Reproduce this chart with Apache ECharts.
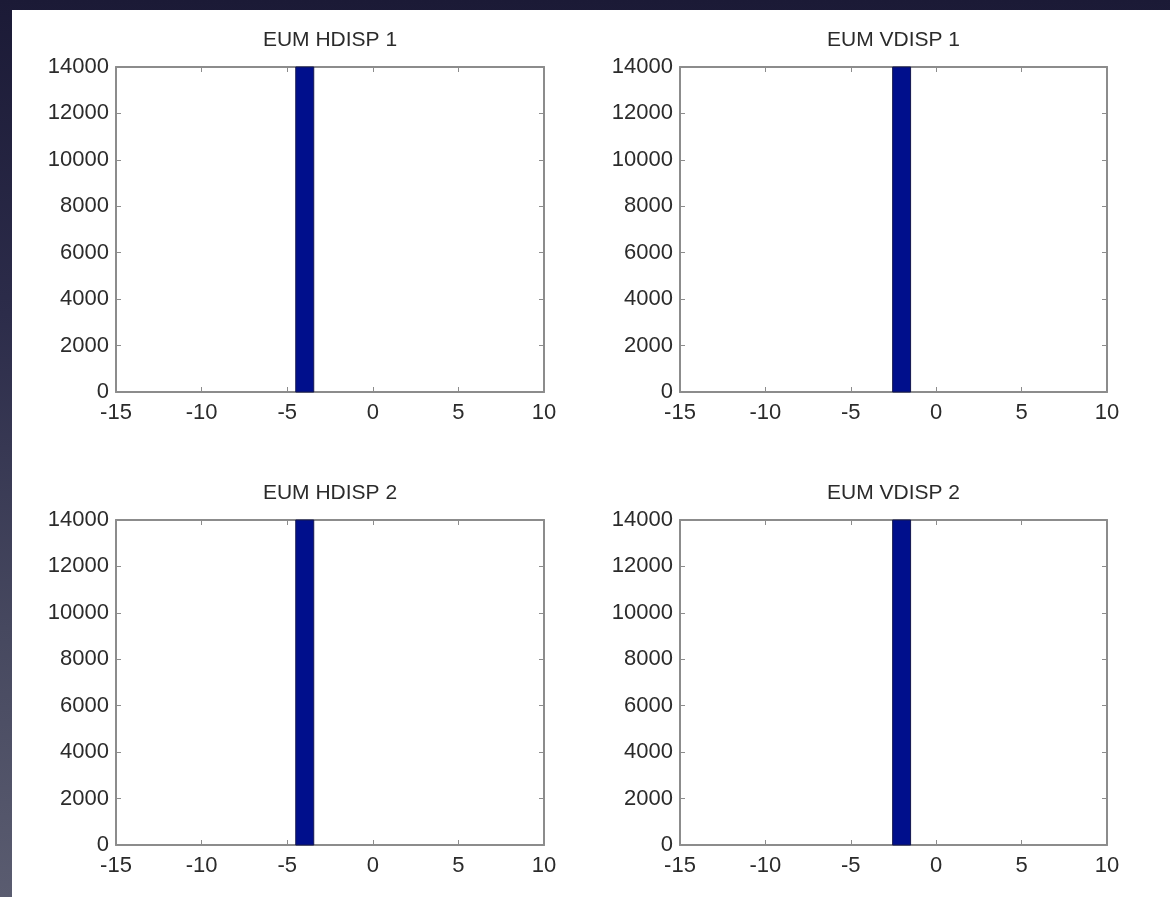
<!DOCTYPE html>
<html>
<head>
<meta charset="utf-8">
<script src="https://cdn.jsdelivr.net/npm/echarts@6/dist/echarts.min.js"></script>
<style>
  html, body { margin: 0; padding: 0; width: 1170px; height: 897px; overflow: hidden;
    background: linear-gradient(to bottom, #1b1a36 0%, #2c2c4a 35%, #46485f 70%, #5a5c70 100%); }
  #panel { position: absolute; left: 12px; top: 10px; width: 1158px; height: 887px; background: #ffffff; }
  #chart { position: absolute; left: 0; top: 0; width: 1170px; height: 897px; }
</style>
</head>
<body>
<div id="panel"></div>
<div id="chart"></div>
<script>
// ---- data ----
const panelTitles = ['EUM HDISP 1', 'EUM VDISP 1', 'EUM HDISP 2', 'EUM VDISP 2'];
// histogram bins: [bin start, bin end, count]
const hdisp1Bins = [[-4.5, -3.45, 14000]];
const vdisp1Bins = [[-2.55, -1.5, 14000]];
const hdisp2Bins = [[-4.5, -3.45, 14000]];
const vdisp2Bins = [[-2.55, -1.5, 14000]];
const xTicks = { min: -15, max: 10, interval: 5 };
const yTicks = { min: 0, max: 14000, interval: 2000 };

const allBins = [hdisp1Bins, vdisp1Bins, hdisp2Bins, vdisp2Bins];

// ---- layout ----
const grids = [
  { left: 116, top: 67, width: 428, height: 325 },
  { left: 680, top: 67, width: 427, height: 325 },
  { left: 116, top: 520, width: 428, height: 325 },
  { left: 680, top: 520, width: 427, height: 325 }
];

const axisColor = '#8c8c8c';
const textColor = '#2b2b2b';
const fontFamily = '"Liberation Sans", Arial, Helvetica, sans-serif';

const xAxes = [], yAxes = [], series = [], graphics = [];
grids.forEach((g, i) => {
  const base = {
    gridIndex: i,
    type: 'value',
    axisLine: { show: true, onZero: false, lineStyle: { color: axisColor, width: 2 } },
    axisTick: { show: true, inside: true, length: 5, lineStyle: { color: axisColor, width: 1 } },
    splitLine: { show: false }
  };
  xAxes.push(Object.assign({}, base, {
    position: 'bottom', min: xTicks.min, max: xTicks.max, interval: xTicks.interval,
    axisLabel: { color: textColor, fontSize: 22, fontFamily, margin: 10, formatter: v => String(v) }
  }));
  xAxes.push(Object.assign({}, base, {
    position: 'top', min: xTicks.min, max: xTicks.max, interval: xTicks.interval,
    axisLabel: { show: false }
  }));
  yAxes.push(Object.assign({}, base, {
    position: 'left', min: yTicks.min, max: yTicks.max, interval: yTicks.interval,
    axisLabel: { color: textColor, fontSize: 22, fontFamily, margin: 7, formatter: v => String(v) }
  }));
  yAxes.push(Object.assign({}, base, {
    position: 'right', min: yTicks.min, max: yTicks.max, interval: yTicks.interval,
    axisLabel: { show: false }
  }));
  series.push({
    type: 'custom',
    xAxisIndex: i * 2,
    yAxisIndex: i * 2,
    data: allBins[i],
    renderItem: function (params, api) {
      const p0 = api.coord([api.value(0), api.value(2)]);
      const p1 = api.coord([api.value(1), 0]);
      const rect = echarts.graphic.clipRectByRect(
        { x: p0[0], y: p0[1], width: p1[0] - p0[0], height: p1[1] - p0[1] },
        { x: params.coordSys.x, y: params.coordSys.y, width: params.coordSys.width, height: params.coordSys.height }
      );
      return rect && {
        type: 'rect',
        shape: rect,
        style: { fill: '#000f8c', stroke: '#141850', lineWidth: 1 }
      };
    }
  });
  graphics.push({
    type: 'text',
    x: g.left + g.width / 2,
    y: g.top - 27,
    style: {
      text: panelTitles[i],
      fill: textColor,
      font: '21px ' + fontFamily,
      textAlign: 'center',
      textVerticalAlign: 'middle'
    }
  });
});

const chart = echarts.init(document.getElementById('chart'), null, { renderer: 'canvas' });
chart.setOption({
  backgroundColor: 'transparent',
  animation: false,
  grid: grids.map(g => Object.assign({ containLabel: false }, g)),
  xAxis: xAxes,
  yAxis: yAxes,
  series: series,
  graphic: graphics
});
</script>
</body>
</html>
